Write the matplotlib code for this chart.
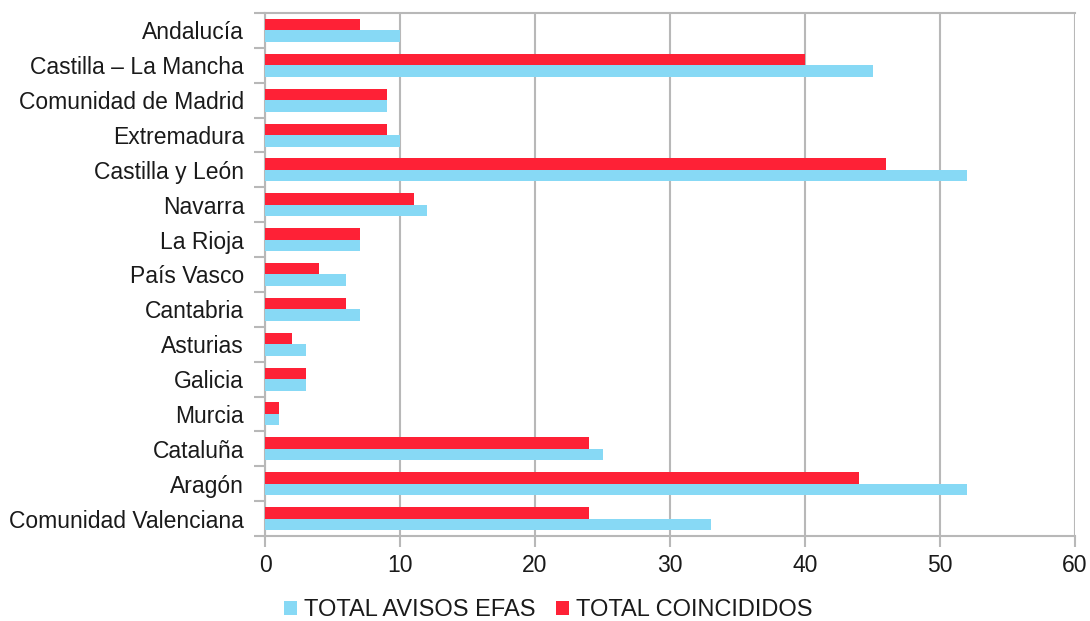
import matplotlib
matplotlib.use("Agg")
import matplotlib.pyplot as plt
import numpy as np

plt.rcParams['font.family'] = ['Liberation Sans', 'DejaVu Sans']

categories = ["Andalucía", "Castilla – La Mancha", "Comunidad de Madrid", "Extremadura",
              "Castilla y León", "Navarra", "La Rioja", "País Vasco", "Cantabria",
              "Asturias", "Galicia", "Murcia", "Cataluña", "Aragón", "Comunidad Valenciana"]
avisos_efas = [10, 45, 9, 10, 52, 12, 7, 6, 7, 3, 3, 1, 25, 52, 33]
coincididos = [7, 40, 9, 9, 46, 11, 7, 4, 6, 2, 3, 1, 24, 44, 24]
xticks = [0, 10, 20, 30, 40, 50, 60]

blue = '#87d9f5'
red = '#fe2136'
grid_c = '#b8b8b8'
text_c = '#1a1a1a'

fig = plt.figure(figsize=(10.9, 6.21), dpi=100)
ax = fig.add_axes([265/1090, 1-536/621, (1075-265)/1090, (536-13)/621])

y = np.arange(len(categories))
h = 0.33
ax.barh(y + h/2, avisos_efas, height=h, color=blue, label='TOTAL AVISOS EFAS', zorder=3)
ax.barh(y - h/2, coincididos, height=h, color=red, label='TOTAL COINCIDIDOS', zorder=3)

ax.set_ylim(len(categories) - 0.5, -0.5)
ax.set_xlim(0, 60)
ax.set_xticks(xticks)
ax.set_xticklabels([str(v) for v in xticks], fontsize=16.5, color=text_c)
ax.set_yticks(y)
ax.set_yticklabels(categories, fontsize=16.5, color=text_c)
ax.tick_params(axis='y', length=0, pad=15)
ax.set_yticks(np.arange(len(categories) + 1) - 0.5, minor=True)
ax.tick_params(axis='y', which='minor', length=8, width=1.5, color=grid_c)
ax.tick_params(axis='x', length=8, width=1.5, color=grid_c, pad=5)

ax.grid(axis='x', color=grid_c, linewidth=1.5, zorder=0)
for s in ['right']:
    ax.spines[s].set_visible(False)
for s in ['left', 'bottom', 'top']:
    ax.spines[s].set_color(grid_c)
    ax.spines[s].set_linewidth(1.5)

leg = fig.legend(loc='center', bbox_to_anchor=(0.503, 1 - 610/621), ncol=2, frameon=False,
                 fontsize=17, handlelength=0.55, handleheight=0.55, handletextpad=0.3,
                 columnspacing=0.9, borderpad=0)
for t in leg.get_texts():
    t.set_color(text_c)

fig.savefig('out.png', dpi=100)
